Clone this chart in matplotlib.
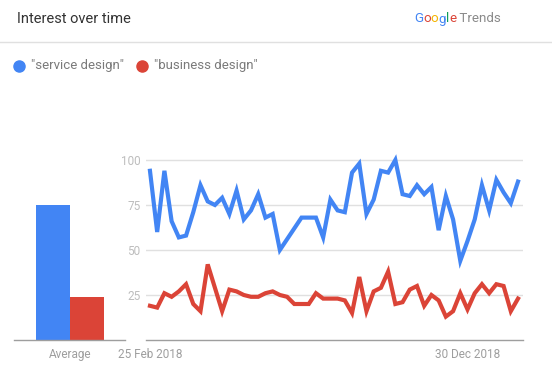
import numpy as np
import matplotlib
matplotlib.use("Agg")
import matplotlib.pyplot as plt
from matplotlib.lines import Line2D

plt.rcParams['font.family'] = ['Roboto', 'DejaVu Sans']

# weekly values, 25 Feb 2018 .. 17 Feb 2019
service_design = [94, 60, 94, 66, 57, 58, 71, 86, 77, 75,
                  79, 70, 83, 67, 72, 81, 68, 70, 50, 56,
                  62, 68, 68, 68, 57, 78, 72, 71, 93, 98,
                  70, 78, 94, 93, 100, 81, 80, 86, 81, 85,
                  61, 80, 67, 44, 55, 67, 86, 72, 89, 82,
                  76, 88]
business_design = [19, 18, 26, 24, 27, 31, 20, 16, 42, 29,
                   16, 28, 27, 25, 24, 24, 26, 27, 25, 24,
                   20, 20, 20, 26, 23, 23, 23, 22, 15, 35,
                   16, 27, 29, 38, 20, 21, 28, 30, 19, 25,
                   22, 13, 16, 26, 17, 26, 31, 26, 31, 30,
                   16, 23]
averages = [75, 24]
week_labels = {0: "25 Feb 2018", 44: "30 Dec 2018"}

blue = "#4285F4"
red = "#DB4437"
W, H = 552, 370


def figBox(x0, y0, x1, y1):
    # pixel box (top-left origin) -> figure fraction rect
    return [x0 / W, 1 - y1 / H, (x1 - x0) / W, (y1 - y0) / H]


def drawHeader(fig):
    fig.text(17 / W, 1 - 19 / H, "Interest over time", fontsize=10.5,
             color="#333333", va="center", ha="left")
    fig.add_artist(Line2D([0, 1], [1 - 42 / H, 1 - 42 / H], color="#e0e0e0",
                          lw=1, transform=fig.transFigure))

    # Google Trends logo, letter by letter
    renderer = fig.canvas.get_renderer()
    letters = [("G", "#4285F4"), ("o", "#DB4437"), ("o", "#F4B400"),
               ("g", "#4285F4"), ("l", "#0F9D58"), ("e", "#DB4437"),
               (" Trends", "#8a8a8a")]
    x = 414
    for ch, col in letters:
        t = fig.text(x / W, 1 - 19 / H, ch, fontsize=9.6, color=col,
                     va="center", ha="left")
        bb = t.get_window_extent(renderer)
        x += bb.width

    # legend
    y = 1 - 66 / H
    for dotX, label, col in [(19, '"service design"', blue),
                             (142, '"business design"', red)]:
        fig.add_artist(Line2D([dotX / W], [y], marker="o", markersize=8,
                              color=col, lw=0, transform=fig.transFigure))
        fig.text((dotX + 12) / W, y, label, fontsize=9.5, color="#7a7a7a",
                 va="center", ha="left")


def styleAxis(ax):
    for side in ["top", "right", "left"]:
        ax.spines[side].set_visible(False)
    ax.spines["bottom"].set_color("#9e9e9e")
    ax.spines["bottom"].set_linewidth(1)
    ax.tick_params(axis="both", length=0, colors="#9e9e9e", labelsize=8.5)


fig = plt.figure(figsize=(W / 100, H / 100), dpi=100)
drawHeader(fig)

# average bars
top = 160 - 100 * 0.05 * 1.8
barAx = fig.add_axes(figBox(14, top, 125, 340))
barAx.bar([0, 1], averages, width=1, align="edge", color=[blue, red])
barAx.set_xlim(-0.647, 2.618)
barAx.set_ylim(0, 105)
barAx.set_xticks([1])
barAx.set_xticklabels(["Average"])
barAx.set_yticks([])
styleAxis(barAx)
barAx.tick_params(axis="x", pad=6)

# line chart
lineAx = fig.add_axes(figBox(146, top, 523, 340))
weeks = np.arange(len(service_design))
lineAx.plot(weeks, service_design, color=blue, lw=3, solid_joinstyle="miter")
lineAx.plot(weeks, business_design, color=red, lw=3, solid_joinstyle="miter")
lineAx.set_xlim(-0.55, 51.69)
lineAx.set_ylim(0, 105)
lineAx.set_yticks([25, 50, 75, 100])
lineAx.yaxis.grid(True, color="#e0e0e0", lw=1)
lineAx.set_axisbelow(True)
lineAx.set_xticks(list(week_labels.keys()))
lineAx.set_xticklabels(list(week_labels.values()))
styleAxis(lineAx)
lineAx.tick_params(axis="x", pad=6)
lineAx.tick_params(axis="y", pad=4, colors="#bdbdbd")

fig.savefig("out.png", dpi=100)
